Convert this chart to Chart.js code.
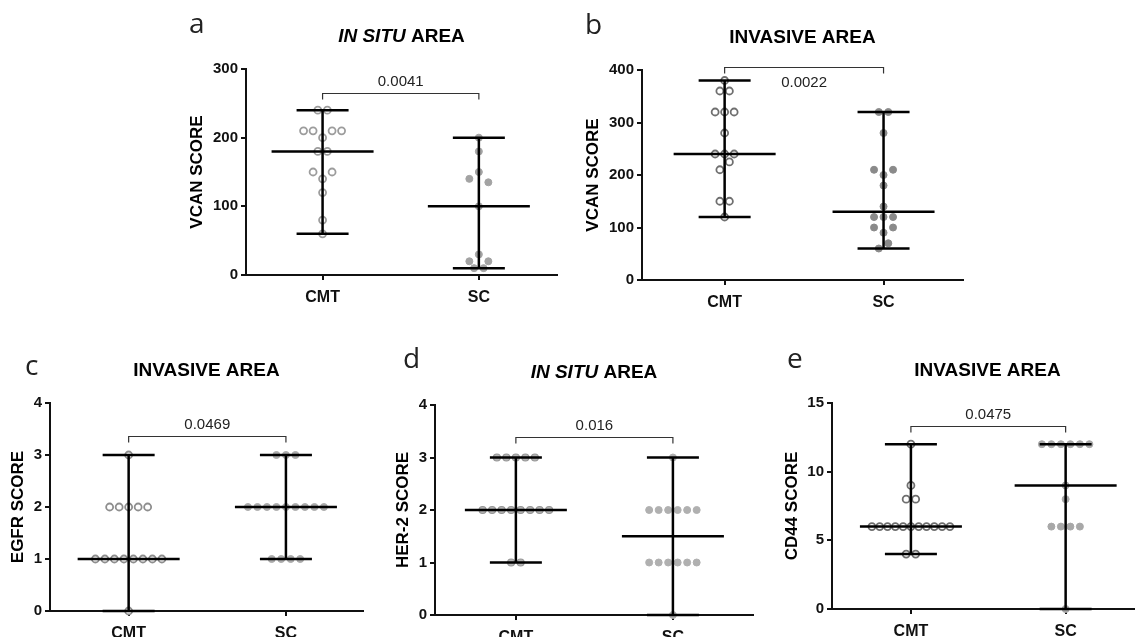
<!DOCTYPE html>
<html>
<head>
<meta charset="utf-8">
<script src="https://cdn.jsdelivr.net/npm/chart.js@4.4.1/dist/chart.umd.min.js"></script>
<style>
    html, body { margin: 0; padding: 0; background: #fff; overflow: hidden; }
    body { width: 1135px; height: 637px; position: relative; }
    canvas { position: absolute; }
</style>
</head>
<body>
<script>
const groups = ['CMT', 'SC'];

/* values, grouped in the rows they sit in (top to bottom, left to right) */
const vcanInSituCmt = [[240, 240], [210, 210, 200, 210, 210], [180, 180], [150, 140, 150], [120], [80], [60]];
const vcanInSituSc = [[200], [180], [140, 150, 135], [100], [20, 30, 20], [10, 10]];
const vcanInvasiveCmt = [[380], [360, 360], [320, 320, 320], [280], [240, 240, 240], [210, 225], [150, 150], [120]];
const vcanInvasiveSc = [[320, 320], [280], [210, 200, 210], [180], [140], [120, 120, 120], [100, 90, 100], [60, 70]];
const egfrCmt = [[3], [2, 2, 2, 2, 2], [1, 1, 1, 1, 1, 1, 1, 1], [0]];
const egfrSc = [[3, 3, 3], [2, 2, 2, 2, 2, 2, 2, 2, 2], [1, 1, 1, 1]];
const her2Cmt = [[3, 3, 3, 3, 3], [2, 2, 2, 2, 2, 2, 2, 2], [1, 1]];
const her2Sc = [[3], [2, 2, 2, 2, 2, 2], [1, 1, 1, 1, 1, 1], [0]];
const cd44Cmt = [[12], [9], [8, 8], [6, 6, 6, 6, 6, 6, 6, 6, 6, 6, 6], [4, 4]];
const cd44Sc = [[12, 12, 12, 12, 12, 12], [9], [8], [6, 6, 6, 6], [0]];

const panelData = [
    [vcanInSituCmt, vcanInSituSc],
    [vcanInvasiveCmt, vcanInvasiveSc],
    [egfrCmt, egfrSc],
    [her2Cmt, her2Sc],
    [cd44Cmt, cd44Sc],
];
const medians = [[180, 100], [240, 130], [1, 2], [2, 1.5], [6, 9]];
const yMax = [300, 400, 4, 4, 15];
const yStep = [100, 100, 1, 1, 5];
const yTitles = ['VCAN SCORE', 'VCAN SCORE', 'EGFR SCORE', 'HER-2 SCORE', 'CD44 SCORE'];
const panelTitles = [['IN SITU', ' AREA'], ['', 'INVASIVE AREA'], ['', 'INVASIVE AREA'], ['IN SITU', ' AREA'], ['', 'INVASIVE AREA']];
const letters = ['a', 'b', 'c', 'd', 'e'];
const pValues = ['0.0041', '0.0022', '0.0469', '0.016', '0.0475'];
const bracketY = [265, 405, 3.37, 3.39, 13.3];
const pAbove = [true, false, true, true, true];

/* layout: plot area in page pixels */
const layout = [
    { left: 246, top: 69, right: 557, bottom: 275, xMin: 0.51, xMax: 2.5, letterDx: -57, letterDy: -36 },
    { left: 642, top: 70, right: 963, bottom: 280, xMin: 0.48, xMax: 2.5, letterDx: -57, letterDy: -36 },
    { left: 50, top: 403, right: 363, bottom: 611, xMin: 0.5, xMax: 2.49, letterDx: -25, letterDy: -28 },
    { left: 435, top: 405, right: 753, bottom: 615, xMin: 0.485, xMax: 2.51, letterDx: -32, letterDy: -37 },
    { left: 832, top: 403, right: 1143, bottom: 609, xMin: 0.49, xMax: 2.5, letterDx: -45, letterDy: -35 },
];
const pointLook = [
    [{ bg: '#fff', border: '#9c9c9c', bw: 1.8 }, { bg: '#a3a3a3', border: '#a3a3a3', bw: 1 }],
    [{ bg: '#fff', border: '#6f6f6f', bw: 1.8 }, { bg: '#8a8a8a', border: '#8a8a8a', bw: 1 }],
    [{ bg: '#fff', border: '#8e8e8e', bw: 1.8 }, { bg: '#ababab', border: '#ababab', bw: 1 }],
    [{ bg: '#b4b4b4', border: '#979797', bw: 1.2 }, { bg: '#b0b0b0', border: '#b0b0b0', bw: 1 }],
    [{ bg: '#fff', border: '#6f6f6f', bw: 1.8 }, { bg: '#a8a8a8', border: '#a8a8a8', bw: 1 }],
];

const FONT = '"Liberation Sans", Arial, sans-serif';
const PAD_L = 90, PAD_T = 75, PAD_R = 15, PAD_B = 40;
Chart.defaults.font.family = FONT;

// spread equal values sideways like a dot plot
function spread(rows, cat, ppu) {
    const pts = [];
    rows.forEach(row => {
        const n = row.length;
        const gap = Math.min(9.5, n > 1 ? 78 / (n - 1) : 9.5) / ppu;
        row.forEach((v, i) => pts.push({ x: cat + (i - (n - 1) / 2) * gap, y: v }));
    });
    return pts;
}

// median line + range with caps
function rangeLines(rows, cat, median, ppu) {
    const vals = rows.flat();
    const lo = Math.min(...vals), hi = Math.max(...vals);
    const mw = 51 / ppu, cw = 26 / ppu;
    return [
        { x: cat - mw, y: median }, { x: cat + mw, y: median }, { x: cat, y: null },
        { x: cat, y: lo }, { x: cat, y: hi }, { x: cat, y: null },
        { x: cat - cw, y: hi }, { x: cat + cw, y: hi }, { x: cat, y: null },
        { x: cat - cw, y: lo }, { x: cat + cw, y: lo },
    ];
}

const decorPlugin = {
    id: 'decor',
    afterDraw(chart, args, opts) {
        const k = opts.index;
        const { ctx, chartArea: area, scales: { x, y } } = chart;
        ctx.save();

        // panel letter
        ctx.fillStyle = '#222';
        ctx.font = '28px "Open Sans", sans-serif';
        ctx.textAlign = 'left';
        ctx.textBaseline = 'alphabetic';
        ctx.fillText(letters[k], area.left + layout[k].letterDx, area.top + layout[k].letterDy);

        // panel title, italic part first
        const [t1, t2] = panelTitles[k];
        ctx.fillStyle = '#000';
        ctx.font = 'italic bold 19px ' + FONT;
        const w1 = ctx.measureText(t1).width;
        ctx.font = 'bold 19px ' + FONT;
        const w2 = ctx.measureText(t2).width;
        let tx = (area.left + area.right) / 2 - (w1 + w2) / 2;
        const ty = area.top - 27;
        ctx.font = 'italic bold 19px ' + FONT;
        ctx.fillText(t1, tx, ty);
        ctx.font = 'bold 19px ' + FONT;
        ctx.fillText(t2, tx + w1, ty);

        // y axis title
        ctx.font = 'bold 15px ' + FONT;
        const labW = ctx.measureText(String(yMax[k])).width;
        const yx = area.left - 5 - 4 - labW - 6 - 8.5;
        ctx.translate(yx, (area.top + area.bottom) / 2);
        ctx.rotate(-Math.PI / 2);
        ctx.font = 'bold 17px ' + FONT;
        ctx.textAlign = 'center';
        ctx.textBaseline = 'middle';
        ctx.fillText(yTitles[k], 0, 0);
        ctx.setTransform(1, 0, 0, 1, 0, 0);

        // significance bracket
        const x1 = x.getPixelForValue(1), x2 = x.getPixelForValue(2);
        const by = Math.round(y.getPixelForValue(bracketY[k])) + 0.5;
        ctx.strokeStyle = '#333';
        ctx.lineWidth = 1.2;
        ctx.beginPath();
        ctx.moveTo(x1, by + 6); ctx.lineTo(x1, by);
        ctx.lineTo(x2, by); ctx.lineTo(x2, by + 6);
        ctx.stroke();
        ctx.fillStyle = '#222';
        ctx.font = '15px ' + FONT;
        ctx.textAlign = 'center';
        ctx.textBaseline = 'alphabetic';
        ctx.fillText(pValues[k], (x1 + x2) / 2, pAbove[k] ? by - 8 : by + 19);
        ctx.restore();
    }
};

layout.forEach((L, k) => {
    const cv = document.createElement('canvas');
    cv.width = L.right - L.left + PAD_L + PAD_R;
    cv.height = L.bottom - L.top + PAD_T + PAD_B;
    cv.style.left = (L.left - PAD_L) + 'px';
    cv.style.top = (L.top - PAD_T) + 'px';
    document.body.appendChild(cv);

    const ppu = (L.right - L.left) / (L.xMax - L.xMin);
    const datasets = [];
    panelData[k].forEach((rows, g) => {
        const look = pointLook[k][g];
        datasets.push({
            data: rangeLines(rows, g + 1, medians[k][g], ppu),
            showLine: true,
            borderColor: '#000',
            borderWidth: 2.5,
            pointRadius: 0,
            spanGaps: false,
            clip: false,
            order: 0,
        });
        datasets.push({
            data: spread(rows, g + 1, ppu),
            pointRadius: 3.5,
            pointBackgroundColor: look.bg,
            pointBorderColor: look.border,
            pointBorderWidth: look.bw,
            clip: false,
            order: 1,
        });
    });

    new Chart(cv.getContext('2d'), {
        type: 'scatter',
        data: { datasets },
        options: {
            responsive: false,
            animation: false,
            layout: { padding: { left: 0, top: PAD_T, right: PAD_R, bottom: 0 } },
            plugins: {
                legend: { display: false },
                tooltip: { enabled: false },
                decor: { index: k },
            },
            scales: {
                x: {
                    type: 'linear',
                    min: L.xMin,
                    max: L.xMax,
                    afterBuildTicks: s => { s.ticks = [{ value: 1 }, { value: 2 }]; },
                    afterFit: s => { s.height = PAD_B; },
                    ticks: {
                        callback: v => groups[v - 1],
                        font: { size: 16, weight: 'bold' },
                        color: '#111',
                        padding: 8,
                        maxRotation: 0,
                        autoSkip: false,
                    },
                    grid: { drawOnChartArea: false, drawTicks: true, tickLength: 5, lineWidth: 2, color: '#111' },
                    border: { display: true, width: 2, color: '#111' },
                },
                y: {
                    min: 0,
                    max: yMax[k],
                    afterFit: s => { s.width = PAD_L; },
                    ticks: {
                        stepSize: yStep[k],
                        font: { size: 15, weight: 'bold' },
                        color: '#111',
                        padding: 3,
                    },
                    grid: { drawOnChartArea: false, drawTicks: true, tickLength: 5, lineWidth: 2, color: '#111' },
                    border: { display: true, width: 2, color: '#111' },
                },
            },
        },
        plugins: [decorPlugin],
    });
});
</script>
</body>
</html>
